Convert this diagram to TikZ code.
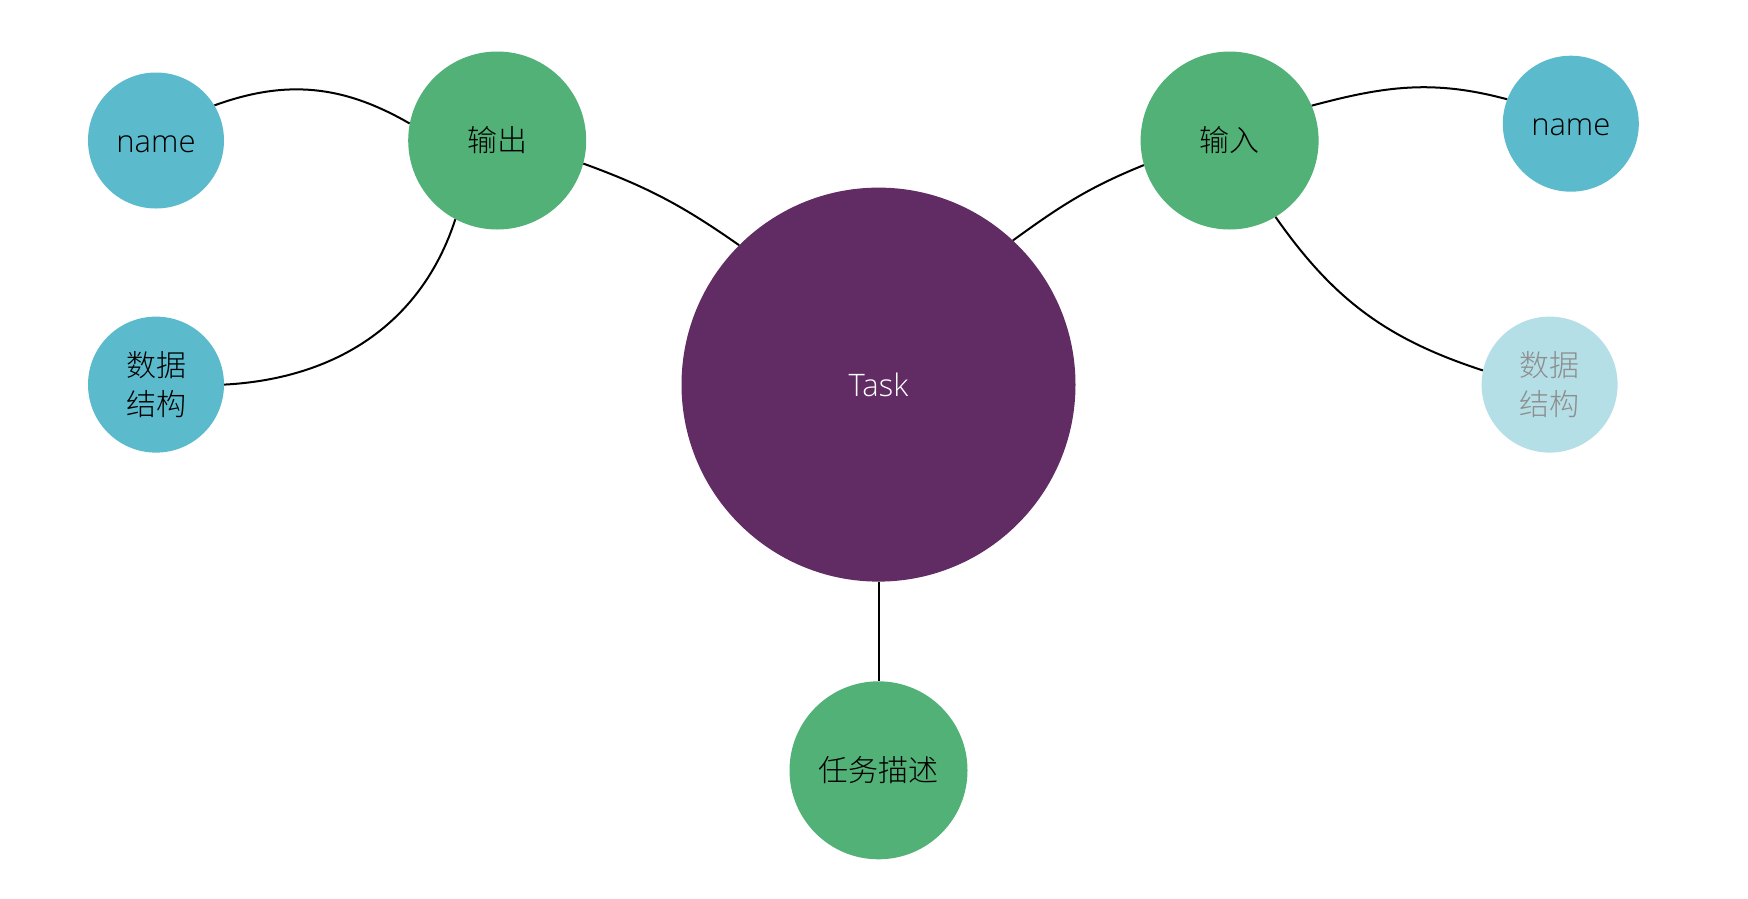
\documentclass[tikz,border=0pt]{standalone}
\usepackage{fontspec}
\setmainfont{Open Sans}[UprightFont=* Light]
\newfontfamily\cjk{Noto Sans CJK SC}[UprightFont=* Light]
\definecolor{cblue}{HTML}{5BBBCC}
\definecolor{cgreen}{HTML}{52B176}
\definecolor{cpurple}{HTML}{612B64}
\definecolor{clight}{HTML}{B4DFE6}
\definecolor{cgray}{HTML}{8E8E8E}
\begin{document}
\begin{tikzpicture}[x=1pt,y=-1pt,
  bub/.style={circle,inner sep=0pt,text=black,align=center,
    font=\fontsize{30}{39}\selectfont\cjk},
  small/.style={bub,fill=cblue,minimum size=136pt},
  mid/.style={bub,fill=cgreen,minimum size=178pt},
  latin/.style={font=\fontsize{31}{39}\selectfont\rmfamily,text height=24pt,text depth=0pt},
  link/.style={draw=black,line width=2pt}]
\useasboundingbox (0,0) rectangle (1748,898);
\node[bub,fill=cpurple,minimum size=394pt,text=white,font=\fontsize{31}{39}\selectfont\rmfamily] (task) at (878.5,384.6) {Task};
\node[mid] (out) at (497.2,140.5) {输出};
\node[mid] (in) at (1229.6,140.5) {输入};
\node[mid] (desc) at (878.5,770.3) {任务描述};
\node[small,latin] (lname) at (156,140.5) {name};
\node[small] (lds) at (156,384.6) {数据\\结构};
\node[small,latin] (rname) at (1570.8,123.7) {name};
\node[small,fill=clight,text=cgray] (rds) at (1549.6,384.6) {数据\\结构};
\draw[link] (lname.31.6) to[out=20,in=150] (out.169.9);
\draw[link] (out.-15.1) to[out=-20,in=145] (task.135);
\draw[link] (out.242.2) to[out=-108,in=3] (lds.0);
\draw[link] (in.196.8) to[out=202,in=36] (task.47.5);
\draw[link] (in.23.4) to[out=15,in=165] (rname.159.6);
\draw[link] (in.-59.9) to[out=-55,in=162] (rds.168.3);
\draw[link] (task.south) -- (desc.north);
\end{tikzpicture}
\end{document}
